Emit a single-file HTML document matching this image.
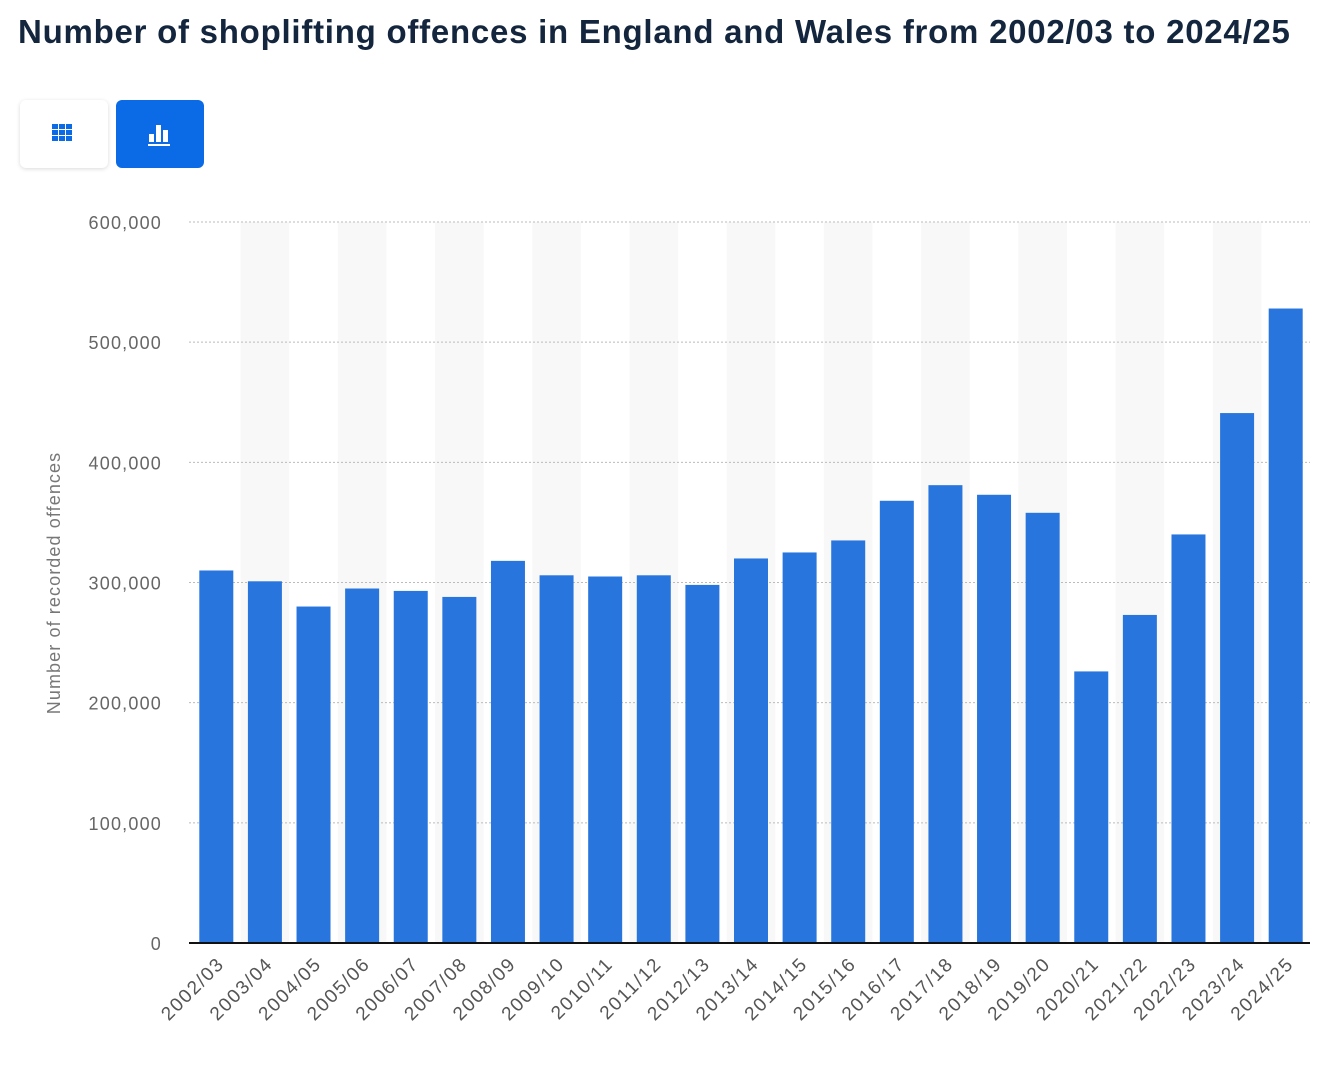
<!DOCTYPE html>
<html><head><meta charset="utf-8"><style>
body{margin:0;background:#fff;width:1324px;height:1092px;overflow:hidden;font-family:"Liberation Sans",sans-serif}
h1{position:absolute;left:18px;top:13px;margin:0;font-size:33px;font-weight:bold;color:#13263d;letter-spacing:0.75px}
.btn{position:absolute;top:100px;width:88px;height:68px;border-radius:6px}
</style></head><body>
<h1>Number of shoplifting offences in England and Wales from 2002/03 to 2024/25</h1>
<div class="btn" style="left:20px;background:#fff;box-shadow:0 1px 4px rgba(0,0,0,0.15)">
<svg width="88" height="68"><g fill="#0b6be6">
<rect x="32" y="24" width="6" height="5"/><rect x="39" y="24" width="6" height="5"/><rect x="46" y="24" width="6" height="5"/>
<rect x="32" y="30" width="6" height="5"/><rect x="39" y="30" width="6" height="5"/><rect x="46" y="30" width="6" height="5"/>
<rect x="32" y="36" width="6" height="5"/><rect x="39" y="36" width="6" height="5"/><rect x="46" y="36" width="6" height="5"/></g></svg></div>
<div class="btn" style="left:116px;background:#0b6be6">
<svg width="88" height="68"><g fill="#fff"><rect x="33" y="34" width="5" height="8"/><rect x="40" y="25" width="5" height="17"/><rect x="47" y="30" width="5" height="12"/><rect x="32" y="44" width="22" height="2"/></g></svg></div>
<svg id="chart" width="1324" height="1092" style="position:absolute;left:0;top:0"></svg>
<script>
const categories=["2002/03","2003/04","2004/05","2005/06","2006/07","2007/08","2008/09","2009/10","2010/11","2011/12","2012/13","2013/14","2014/15","2015/16","2016/17","2017/18","2018/19","2019/20","2020/21","2021/22","2022/23","2023/24","2024/25"];
const values=[310000,301000,280000,295000,293000,288000,318000,306000,305000,306000,298000,320000,325000,335000,368000,381000,373000,358000,226000,273000,340000,441000,528000];
const yTicks=[0,100000,200000,300000,400000,500000,600000];
const yTickLabels=["0","100,000","200,000","300,000","400,000","500,000","600,000"];
const NS="http://www.w3.org/2000/svg";
const svg=document.getElementById('chart');
const x0=192,x1=1310,yBase=943,yTop=222,yMax=600000;
const pitch=(x1-x0)/categories.length,bw=34;
const y=v=>yBase-(v/yMax)*(yBase-yTop);
const xc=i=>x0+pitch*(i+0.5);
function mk(t,a){const e=document.createElementNS(NS,t);for(const k in a)e.setAttribute(k,a[k]);svg.appendChild(e);return e;}
categories.forEach((c,i)=>{if(i%2==1){const r=mk('rect',{x:xc(i)-pitch/2,y:yTop,width:pitch,height:yBase-yTop,fill:'#f8f8f8'});

}});
yTicks.forEach((v,i)=>{if(v>0){const l=mk('line',{x1:x0-3,x2:x1,y1:y(v),y2:y(v),stroke:'#bbb','stroke-dasharray':'2,2'});

}
const t=mk('text',{x:162,y:y(v)+7,'text-anchor':'end','font-size':'18','letter-spacing':'1.2',fill:'#666'});t.textContent=yTickLabels[i];

});
categories.forEach((c,i)=>{const b=mk('rect',{x:xc(i)-bw/2,y:y(values[i]),width:bw,height:yBase-y(values[i]),fill:'#2876dd'});


const t=mk('text',{x:xc(i)+9,y:yBase+22,'text-anchor':'end','font-size':'19','letter-spacing':'1.6',fill:'#555',transform:`rotate(-45 ${xc(i)+9} ${yBase+22})`});t.textContent=c;

});
const ax=mk('line',{x1:x0-3,x2:x1,y1:yBase,y2:yBase,stroke:'#111','stroke-width':2});


const yt=mk('text',{x:60,y:583,'text-anchor':'middle','font-size':'18','letter-spacing':'1.1',fill:'#777',transform:'rotate(-90 60 583)'});yt.textContent='Number of recorded offences';


</script>
</body></html>
